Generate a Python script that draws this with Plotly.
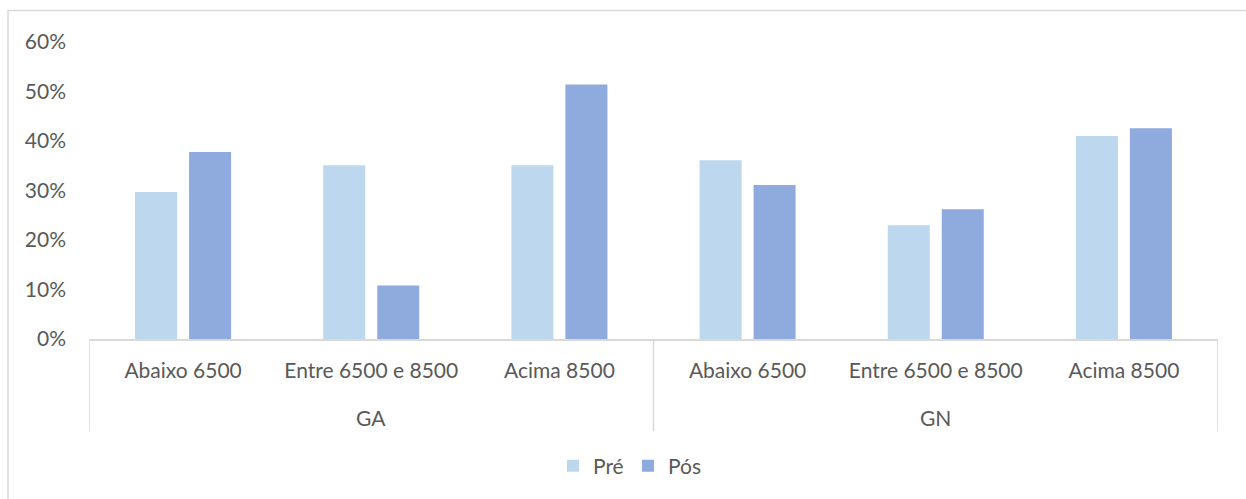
import plotly.graph_objects as go

# Grouped bars: share of cases per range, before (Pré) and after (Pós), for GA and GN
groups = ["GA", "GA", "GA", "GN", "GN", "GN"]
ranges = ["Abaixo 6500", "Entre 6500 e 8500", "Acima 8500",
          "Abaixo 6500", "Entre 6500 e 8500", "Acima 8500"]
pre_values = [0.297, 0.351, 0.351, 0.361, 0.230, 0.410]
pos_values = [0.378, 0.108, 0.514, 0.311, 0.262, 0.426]
y_ticks = [0, 0.1, 0.2, 0.3, 0.4, 0.5, 0.6]

TEXT = "#595959"
LINE = "#d9d9d9"
FONT = "Lato, Open Sans, sans-serif"
FS = 21

W, H = 1246, 499
L, R, T, B = 89, 28, 41.5, 159.5
pw, ph = W - L - R, H - T - B


def py(pixel_y):
    """Convert a pixel row of the page to a paper y coordinate."""
    return (T + ph - pixel_y) / ph


# one slot per (group, range) pair along the x axis
slots = list(range(len(ranges)))

fig = go.Figure()
fig.add_trace(go.Bar(name="Pré", x=slots, y=pre_values,
                     marker=dict(color="#bdd7ee", line=dict(width=0))))
fig.add_trace(go.Bar(name="Pós", x=slots, y=pos_values,
                     marker=dict(color="#8faadc", line=dict(width=0))))

# group labels and the dividers between groups
group_names = list(dict.fromkeys(groups))
for g in group_names:
    idx = [i for i, name in enumerate(groups) if name == g]
    fig.add_annotation(x=sum(idx) / len(idx), xref="x", y=py(418), yref="paper",
                       text=g, showarrow=False, yanchor="middle",
                       font=dict(family=FONT, size=FS, color=TEXT))
bounds = [-0.5] + [i + 0.5 for i in range(len(groups) - 1)
                   if groups[i] != groups[i + 1]] + [len(groups) - 0.5]
for b in bounds:
    fig.add_shape(type="line", xref="x", yref="paper", x0=b, x1=b,
                  y0=py(432), y1=0, line=dict(color=LINE, width=1.5))

# outer chart frame
fig.add_shape(type="rect", xref="paper", yref="paper",
              x0=(8 - L) / pw, x1=(W + 20 - L) / pw,
              y0=py(H + 20), y1=py(10),
              line=dict(color=LINE, width=1.5), fillcolor="rgba(0,0,0,0)",
              layer="below")

fig.update_layout(
    width=W, height=H,
    margin=dict(l=L, r=R, t=T, b=B, autoexpand=False),
    paper_bgcolor="white", plot_bgcolor="white",
    barmode="group", bargap=0.426, bargroupgap=0.222,
    font=dict(family=FONT, size=FS, color=TEXT),
    xaxis=dict(
        range=[-0.5, len(ranges) - 0.5], tickvals=slots, ticktext=ranges,
        showline=True, linecolor=LINE, linewidth=1.5,
        ticks="", showgrid=False, zeroline=False, ticklabelstandoff=12,
        tickfont=dict(family=FONT, size=FS, color=TEXT),
    ),
    yaxis=dict(
        range=[0, 0.6], tickvals=y_ticks, tickformat=".0%",
        showgrid=False, zeroline=False, showline=False,
        ticks="", ticklabelstandoff=22,
        tickfont=dict(family=FONT, size=FS, color=TEXT),
    ),
    legend=dict(
        orientation="h", x=(628 - L) / pw, xanchor="center",
        y=py(467), yanchor="middle",
        font=dict(family=FONT, size=FS, color=TEXT),
        itemwidth=30, entrywidth=30, entrywidthmode="pixels",
        traceorder="normal",
    ),
    showlegend=True,
)

fig.write_html("out.html")
